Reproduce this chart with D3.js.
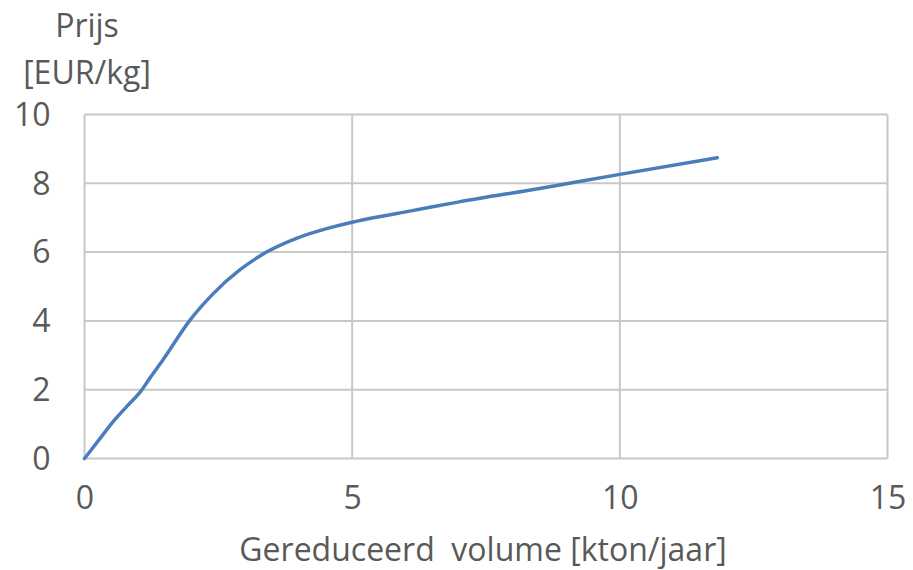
<!DOCTYPE html>
<html>
<head>
<meta charset="utf-8">
<script src="https://cdn.jsdelivr.net/npm/d3@7"></script>
<style>
html,body{margin:0;padding:0;background:#fff;}
text{font-family:"Open Sans",Lato,sans-serif;fill:#595959;white-space:pre;}
</style>
</head>
<body>
<svg id="chart" width="913" height="570"></svg>
<script>
const volume = [0, 0.27, 0.55, 0.8, 1.05, 1.24, 1.48, 1.95, 2.41, 2.9, 3.4, 3.96, 4.59, 5.0, 5.5, 6, 7, 8.5, 10, 11.82];
const price  = [0, 0.54, 1.1, 1.53, 1.95, 2.38, 2.9, 3.98, 4.8, 5.48, 6.0, 6.4, 6.71, 6.87, 7.03, 7.17, 7.46, 7.85, 8.26, 8.74];
const xTicks = [0, 5, 10, 15];
const yTicks = [0, 2, 4, 6, 8, 10];
const yTitle = ["Prijs", "[EUR/kg]"];
const xTitle = "Gereduceerd  volume [kton/jaar]";

(function () {
const svg = d3.select("#chart");
const pLeft = 84.5, pRight = 887.5, pTop = 114.5, pBottom = 458.5;
const fs = "32px";
const x = d3.scaleLinear().domain([0, 15]).range([pLeft, pRight]);
const y = d3.scaleLinear().domain([0, 10]).range([pBottom, pTop]);

const grid = svg.append("g");
grid.selectAll("line.h").data(yTicks).join("line").attr("class", "h")
  .attr("x1", pLeft).attr("x2", pRight)
  .attr("y1", d => y(d)).attr("y2", d => y(d))
  .attr("stroke", "#c8c8c8").attr("stroke-width", 2);
grid.selectAll("line.v").data(xTicks).join("line").attr("class", "v")
  .attr("y1", pTop).attr("y2", pBottom)
  .attr("x1", d => x(d)).attr("x2", d => x(d))
  .attr("stroke", "#c8c8c8").attr("stroke-width", 2);

const yAxis = d3.axisLeft(y).tickValues(yTicks).tickSize(0).tickPadding(34);
const gy = svg.append("g").attr("transform", `translate(${pLeft},0)`).call(yAxis);
gy.select(".domain").remove();
gy.selectAll("text").style("font-size", fs).attr("dy", "0.34em");

const xAxis = d3.axisBottom(x).tickValues(xTicks).tickSize(0).tickPadding(28);
const gx = svg.append("g").attr("transform", `translate(0,${pBottom})`).call(xAxis);
gx.select(".domain").remove();
gx.selectAll("text").style("font-size", fs);

const data = volume.map((v, i) => [v, price[i]]);
svg.append("path").datum(data)
  .attr("fill", "none").attr("stroke", "#4a7ebb").attr("stroke-width", 3.5)
  .attr("stroke-linecap", "round").attr("stroke-linejoin", "round")
  .attr("d", d3.line().x(d => x(d[0])).y(d => y(d[1])).curve(d3.curveMonotoneX));

svg.selectAll("text.yt").data(yTitle).join("text")
  .attr("class", "yt").attr("x", 87).attr("y", (d, i) => 37 + i * 47)
  .attr("text-anchor", "middle").style("font-size", fs).text(d => d);

svg.append("text").attr("x", 483).attr("y", 561)
  .attr("text-anchor", "middle").style("font-size", fs).text(xTitle);
})();
</script>
</body>
</html>
